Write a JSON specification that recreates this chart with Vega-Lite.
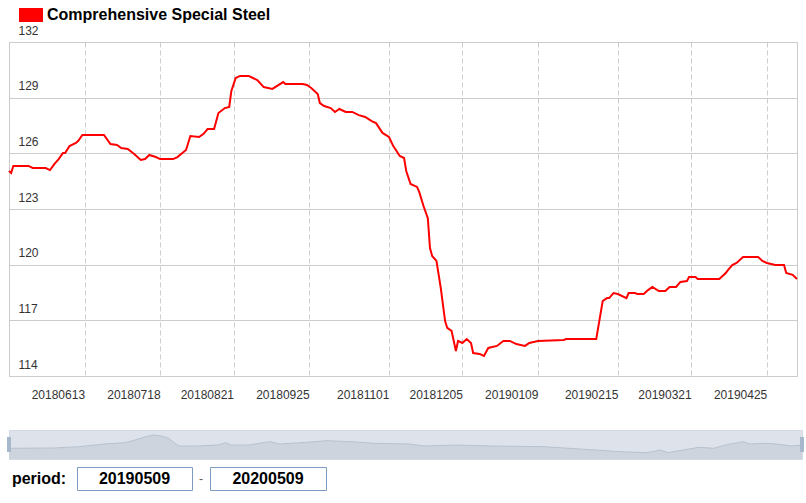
{
  "$schema": "https://vega.github.io/schema/vega-lite/v6.json",
  "background": "#ffffff",
  "padding": {"left": 4, "top": 3, "right": 0, "bottom": 0},
  "config": {"font": "Liberation Sans", "view": {"stroke": null}},
  "spacing": 28,
  "vconcat": [
    {
      "width": 788,
      "height": 334,
      "view": {"stroke": "#cccccc"},
      "data": {"values": [
        {"date": "2018-05-09", "value": 125.05},
        {"date": "2018-05-10", "value": 124.94},
        {"date": "2018-05-11", "value": 125.32},
        {"date": "2018-05-18", "value": 125.32},
        {"date": "2018-05-20", "value": 125.21},
        {"date": "2018-05-26", "value": 125.21},
        {"date": "2018-05-28", "value": 125.10},
        {"date": "2018-05-30", "value": 125.42},
        {"date": "2018-06-01", "value": 125.69},
        {"date": "2018-06-03", "value": 126.02},
        {"date": "2018-06-04", "value": 126.02},
        {"date": "2018-06-06", "value": 126.39},
        {"date": "2018-06-09", "value": 126.56},
        {"date": "2018-06-10", "value": 126.66},
        {"date": "2018-06-12", "value": 126.99},
        {"date": "2018-06-22", "value": 126.99},
        {"date": "2018-06-25", "value": 126.50},
        {"date": "2018-06-28", "value": 126.45},
        {"date": "2018-06-30", "value": 126.29},
        {"date": "2018-07-03", "value": 126.23},
        {"date": "2018-07-06", "value": 125.96},
        {"date": "2018-07-09", "value": 125.64},
        {"date": "2018-07-11", "value": 125.69},
        {"date": "2018-07-13", "value": 125.91},
        {"date": "2018-07-16", "value": 125.80},
        {"date": "2018-07-18", "value": 125.69},
        {"date": "2018-07-24", "value": 125.69},
        {"date": "2018-07-26", "value": 125.80},
        {"date": "2018-07-30", "value": 126.18},
        {"date": "2018-08-01", "value": 126.93},
        {"date": "2018-08-05", "value": 126.88},
        {"date": "2018-08-07", "value": 127.04},
        {"date": "2018-08-09", "value": 127.31},
        {"date": "2018-08-12", "value": 127.31},
        {"date": "2018-08-14", "value": 128.17},
        {"date": "2018-08-17", "value": 128.44},
        {"date": "2018-08-19", "value": 128.50},
        {"date": "2018-08-20", "value": 129.36},
        {"date": "2018-08-22", "value": 130.06},
        {"date": "2018-08-24", "value": 130.17},
        {"date": "2018-08-28", "value": 130.17},
        {"date": "2018-08-30", "value": 130.06},
        {"date": "2018-09-01", "value": 129.95},
        {"date": "2018-09-04", "value": 129.57},
        {"date": "2018-09-08", "value": 129.47},
        {"date": "2018-09-13", "value": 129.84},
        {"date": "2018-09-14", "value": 129.74},
        {"date": "2018-09-22", "value": 129.74},
        {"date": "2018-09-24", "value": 129.68},
        {"date": "2018-09-26", "value": 129.52},
        {"date": "2018-09-29", "value": 129.20},
        {"date": "2018-09-30", "value": 128.71},
        {"date": "2018-10-02", "value": 128.55},
        {"date": "2018-10-05", "value": 128.44},
        {"date": "2018-10-07", "value": 128.23},
        {"date": "2018-10-09", "value": 128.39},
        {"date": "2018-10-12", "value": 128.23},
        {"date": "2018-10-15", "value": 128.23},
        {"date": "2018-10-18", "value": 128.06},
        {"date": "2018-10-21", "value": 127.96},
        {"date": "2018-10-24", "value": 127.74},
        {"date": "2018-10-26", "value": 127.63},
        {"date": "2018-10-29", "value": 127.10},
        {"date": "2018-11-01", "value": 126.88},
        {"date": "2018-11-03", "value": 126.39},
        {"date": "2018-11-06", "value": 125.86},
        {"date": "2018-11-08", "value": 125.75},
        {"date": "2018-11-09", "value": 125.05},
        {"date": "2018-11-11", "value": 124.35},
        {"date": "2018-11-14", "value": 124.19},
        {"date": "2018-11-15", "value": 123.92},
        {"date": "2018-11-17", "value": 123.16},
        {"date": "2018-11-19", "value": 122.51},
        {"date": "2018-11-20", "value": 120.90},
        {"date": "2018-11-21", "value": 120.47},
        {"date": "2018-11-23", "value": 120.20},
        {"date": "2018-11-25", "value": 118.74},
        {"date": "2018-11-27", "value": 116.96},
        {"date": "2018-11-28", "value": 116.59},
        {"date": "2018-11-30", "value": 116.43},
        {"date": "2018-12-02", "value": 115.35},
        {"date": "2018-12-03", "value": 115.89},
        {"date": "2018-12-05", "value": 115.78},
        {"date": "2018-12-07", "value": 115.99},
        {"date": "2018-12-09", "value": 115.78},
        {"date": "2018-12-10", "value": 115.24},
        {"date": "2018-12-13", "value": 115.19},
        {"date": "2018-12-15", "value": 115.08},
        {"date": "2018-12-17", "value": 115.51},
        {"date": "2018-12-21", "value": 115.62},
        {"date": "2018-12-24", "value": 115.89},
        {"date": "2018-12-27", "value": 115.89},
        {"date": "2018-12-30", "value": 115.72},
        {"date": "2019-01-03", "value": 115.62},
        {"date": "2019-01-05", "value": 115.78},
        {"date": "2019-01-09", "value": 115.89},
        {"date": "2019-01-21", "value": 115.94},
        {"date": "2019-01-22", "value": 115.99},
        {"date": "2019-02-05", "value": 115.99},
        {"date": "2019-02-08", "value": 118.04},
        {"date": "2019-02-10", "value": 118.20},
        {"date": "2019-02-11", "value": 118.20},
        {"date": "2019-02-13", "value": 118.47},
        {"date": "2019-02-15", "value": 118.42},
        {"date": "2019-02-19", "value": 118.20},
        {"date": "2019-02-20", "value": 118.47},
        {"date": "2019-02-23", "value": 118.47},
        {"date": "2019-02-24", "value": 118.42},
        {"date": "2019-02-27", "value": 118.42},
        {"date": "2019-03-01", "value": 118.63},
        {"date": "2019-03-03", "value": 118.80},
        {"date": "2019-03-06", "value": 118.58},
        {"date": "2019-03-09", "value": 118.58},
        {"date": "2019-03-11", "value": 118.80},
        {"date": "2019-03-14", "value": 118.80},
        {"date": "2019-03-16", "value": 119.07},
        {"date": "2019-03-19", "value": 119.12},
        {"date": "2019-03-20", "value": 119.34},
        {"date": "2019-03-23", "value": 119.34},
        {"date": "2019-03-24", "value": 119.23},
        {"date": "2019-04-03", "value": 119.23},
        {"date": "2019-04-06", "value": 119.55},
        {"date": "2019-04-07", "value": 119.71},
        {"date": "2019-04-09", "value": 119.98},
        {"date": "2019-04-11", "value": 120.09},
        {"date": "2019-04-14", "value": 120.41},
        {"date": "2019-04-21", "value": 120.41},
        {"date": "2019-04-23", "value": 120.20},
        {"date": "2019-04-25", "value": 120.09},
        {"date": "2019-04-29", "value": 119.98},
        {"date": "2019-05-03", "value": 119.98},
        {"date": "2019-05-04", "value": 119.55},
        {"date": "2019-05-07", "value": 119.45},
        {"date": "2019-05-09", "value": 119.23}
      ]},
      "mark": {"type": "line", "strokeWidth": 2, "interpolate": "linear"},
      "encoding": {
        "x": {
          "field": "date", "type": "temporal",
          "scale": {"type": "utc", "domain": [{"year": 2018, "month": 5, "date": 9, "utc": true}, {"year": 2019, "month": 5, "date": 9, "utc": true}]},
          "axis": {
            "title": null, "format": "%Y%m%d", "domain": false, "ticks": false, "tickSize": 0,
            "values": [
              {"year": 2018, "month": 6, "date": 13, "utc": true},
              {"year": 2018, "month": 7, "date": 18, "utc": true},
              {"year": 2018, "month": 8, "date": 21, "utc": true},
              {"year": 2018, "month": 9, "date": 25, "utc": true},
              {"year": 2018, "month": 11, "date": 1, "utc": true},
              {"year": 2018, "month": 12, "date": 5, "utc": true},
              {"year": 2019, "month": 1, "date": 9, "utc": true},
              {"year": 2019, "month": 2, "date": 15, "utc": true},
              {"year": 2019, "month": 3, "date": 21, "utc": true},
              {"year": 2019, "month": 4, "date": 25, "utc": true}
            ],
            "labelAlign": "right", "labelBaseline": "top", "labelPadding": 13,
            "labelFont": "Liberation Sans", "labelFontSize": 12, "labelColor": "#333333",
            "labelFlush": false, "labelOverlap": false,
            "grid": true, "gridColor": "#cccccc", "gridDash": [5, 3], "gridWidth": 1
          }
        },
        "y": {
          "field": "value", "type": "quantitative",
          "scale": {"domain": [114, 132], "nice": false, "zero": false},
          "axis": {
            "title": null, "values": [114, 117, 120, 123, 126, 129, 132],
            "domain": false, "ticks": false, "tickSize": 0,
            "labelAlign": "left", "labelPadding": -9, "labelBaseline": "alphabetic", "labelOffset": -8,
            "labelFont": "Liberation Sans", "labelFontSize": 12, "labelColor": "#333333",
            "grid": true, "gridColor": "#cccccc", "gridWidth": 1
          }
        },
        "color": {
          "datum": "Comprehensive Special Steel", "type": "nominal",
          "scale": {"range": ["#ff0000"]},
          "legend": {
            "orient": "none", "legendX": 10, "legendY": -39, "title": null, "padding": 0,
            "symbolType": "M-1,-0.5833H1V0.5833H-1Z", "symbolSize": 576,
            "symbolFillColor": "#ff0000", "symbolStrokeWidth": 0,
            "labelFont": "Liberation Sans", "labelFontSize": 16, "labelFontWeight": "bold",
            "labelColor": "#000000", "labelOffset": 4, "labelLimit": 0,
            "encode": {"symbols": {"update": {"fill": {"value": "#ff0000"}, "stroke": {"value": "#ff0000"}, "strokeWidth": {"value": 0}, "opacity": {"value": 1}}}}
          }
        }
      }
    },
    {
      "spacing": 6,
      "vconcat": [
        {
          "width": 793,
          "height": 29,
          "view": {"fill": "#dee3eb", "stroke": "#d3d9e2"},
          "layer": [
            {
              "data": {"values": [
                {"t": 0, "level": 10.7},
                {"t": 5.55, "level": 11},
                {"t": 8.83, "level": 12.3},
                {"t": 11.98, "level": 15},
                {"t": 14.63, "level": 16.3},
                {"t": 15.89, "level": 19},
                {"t": 17.28, "level": 22.3},
                {"t": 18.16, "level": 24},
                {"t": 19.17, "level": 23},
                {"t": 20.18, "level": 20.7},
                {"t": 20.81, "level": 16.3},
                {"t": 21.44, "level": 13},
                {"t": 23.71, "level": 13},
                {"t": 26.36, "level": 14},
                {"t": 27.36, "level": 16.3},
                {"t": 27.99, "level": 14},
                {"t": 30.26, "level": 14},
                {"t": 31.53, "level": 15.7},
                {"t": 32.91, "level": 17.3},
                {"t": 34.17, "level": 15},
                {"t": 36.82, "level": 16.3},
                {"t": 40.1, "level": 18.3},
                {"t": 43.25, "level": 17.3},
                {"t": 45.9, "level": 15.7},
                {"t": 50.44, "level": 15},
                {"t": 52.46, "level": 13},
                {"t": 56.37, "level": 14},
                {"t": 60.91, "level": 13},
                {"t": 67.47, "level": 12.3},
                {"t": 70.62, "level": 10.7},
                {"t": 73.9, "level": 9},
                {"t": 77.18, "level": 7.3},
                {"t": 80.45, "level": 6.3},
                {"t": 82.09, "level": 9},
                {"t": 83.1, "level": 6.3},
                {"t": 84.99, "level": 9},
                {"t": 87.01, "level": 11.7},
                {"t": 88.9, "level": 10.7},
                {"t": 90.29, "level": 14},
                {"t": 92.56, "level": 17.3},
                {"t": 93.44, "level": 15},
                {"t": 95.46, "level": 15.7},
                {"t": 96.72, "level": 15},
                {"t": 98.71, "level": 13},
                {"t": 100, "level": 14}
              ]},
              "mark": {"type": "area", "color": "#cdd4de", "opacity": 1, "line": {"color": "#b8c2cf", "strokeWidth": 1}},
              "encoding": {
                "x": {"field": "t", "type": "quantitative", "scale": {"domain": [0, 100], "nice": false}, "axis": null},
                "y": {"field": "level", "type": "quantitative", "scale": {"domain": [0, 29], "nice": false}, "axis": null}
              }
            },
            {
              "data": {"values": [{"t": 0}, {"t": 100}]},
              "mark": {"type": "tick", "orient": "vertical", "color": "#a7b7cc", "opacity": 1, "thickness": 4, "size": 15},
              "encoding": {
                "x": {"field": "t", "type": "quantitative", "scale": {"domain": [0, 100], "nice": false}, "axis": null}
              }
            }
          ]
        },
        {
          "spacing": 8,
          "bounds": "flush",
          "hconcat": [
            {
              "width": 60, "height": 23,
              "data": {"values": [{"label": "period:"}]},
              "mark": {"type": "text", "font": "Liberation Sans", "fontSize": 16, "fontWeight": "bold", "color": "#000000"},
              "encoding": {"text": {"field": "label"}}
            },
            {
              "width": 115, "height": 23,
              "view": {"fill": "#ffffff", "stroke": "#7b9bc2"},
              "data": {"values": [{"label": "20190509"}]},
              "mark": {"type": "text", "font": "Liberation Sans", "fontSize": 16, "fontWeight": "bold", "color": "#000000"},
              "encoding": {"text": {"field": "label"}}
            },
            {
              "width": 2, "height": 23,
              "data": {"values": [{"label": "-"}]},
              "mark": {"type": "text", "font": "Liberation Sans", "fontSize": 12, "color": "#555555"},
              "encoding": {"text": {"field": "label"}}
            },
            {
              "width": 116, "height": 23,
              "view": {"fill": "#ffffff", "stroke": "#7b9bc2"},
              "data": {"values": [{"label": "20200509"}]},
              "mark": {"type": "text", "font": "Liberation Sans", "fontSize": 16, "fontWeight": "bold", "color": "#000000"},
              "encoding": {"text": {"field": "label"}}
            }
          ]
        }
      ]
    }
  ]
}
